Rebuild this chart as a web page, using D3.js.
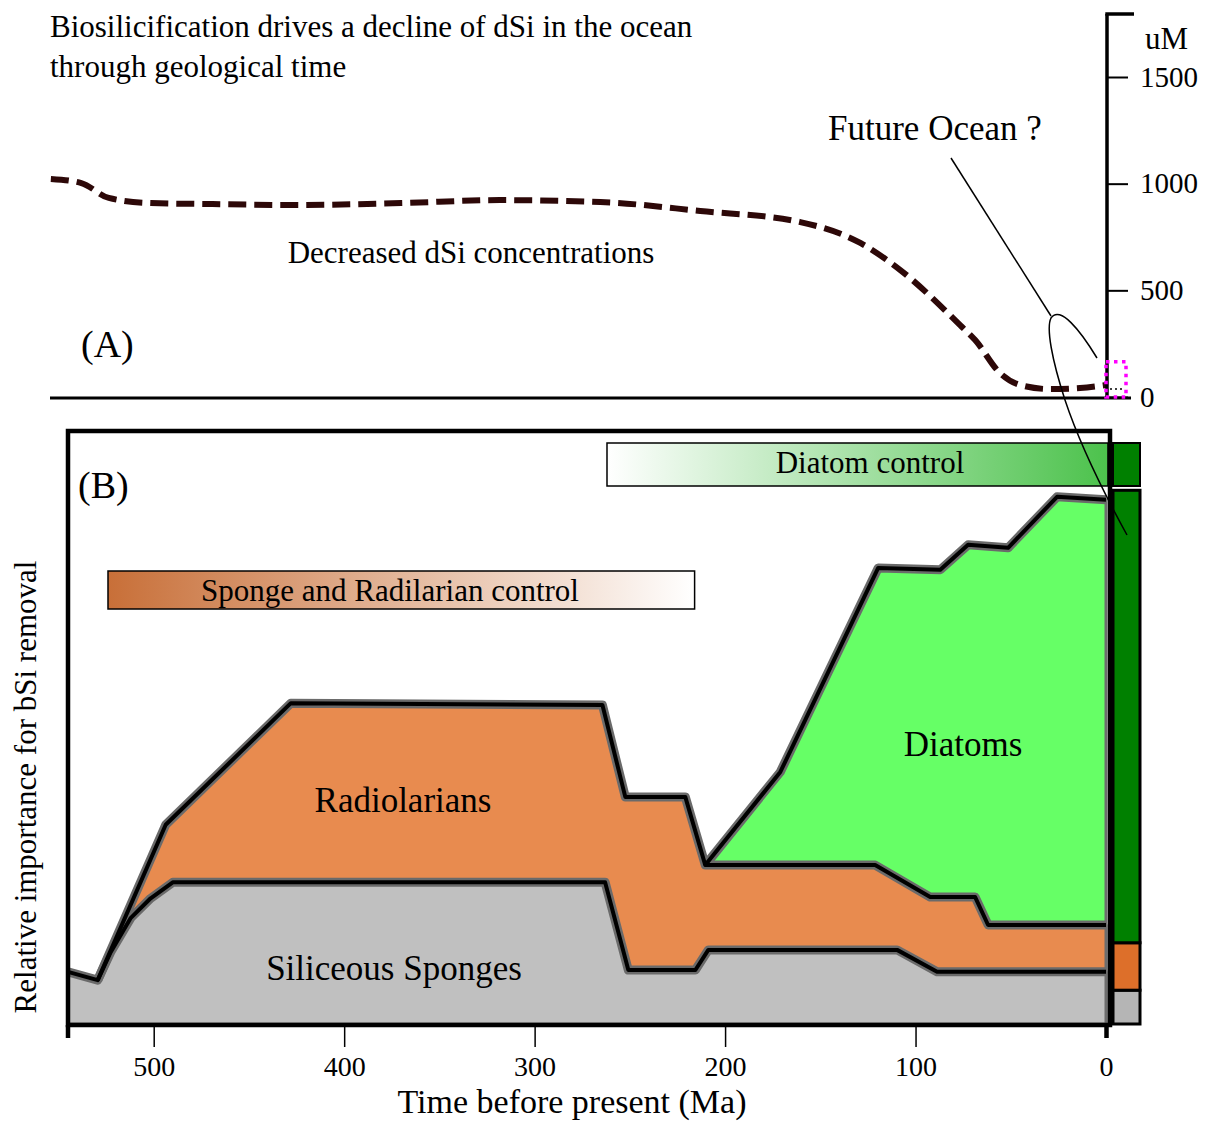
<!DOCTYPE html>
<html>
<head>
<meta charset="utf-8">
<script src="https://cdn.jsdelivr.net/npm/d3@7"></script>
<style>
  body { margin: 0; background: #fff; }
  svg { display: block; font-family: "Liberation Serif", "Times New Roman", serif; }
</style>
</head>
<body>
<svg id="chart" width="1210" height="1122"></svg>
<script>
// (A) dissolved Si in the ocean, [Ma, uM]
var dsiCurve = [[554,1022],[538,1003],[523.6,933],[501.6,909],[475,905],[423,900],[370,909],[318,923],
  [265.5,914],[213,872],[160.5,820],[129,722],[108,595],[76.6,337],[68.7,267],[55.6,112],[45,56],
  [29.4,37],[13.6,42],[0,56]];

// (B) upper edge of each layer, [Ma, relative importance 0-100]
var spongeTop = [[545,8.8],[529.4,7.4],[522.6,12.1],[512,17.9],[501.6,21.2],[490,23.9],[263,23.9],
  [250.8,9.1],[215.6,9.1],[208.8,12.5],[109.7,12.5],[88.7,8.8],[0,8.8]];
var radiolarianTop = [[529.4,7.4],[493.7,33.6],[428,54.1],[264.4,53.8],[252.4,38.3],[220.9,38.3],
  [210.4,26.8],[121.2,26.8],[92.3,21.4],[68.7,21.4],[61.9,16.7],[0,16.7]];
var diatomTop = [[210.4,26.8],[171,42.5],[119.6,76.9],[87,76.6],[72.4,80.8],[51.4,80.3],[25.7,88.9],[0,88.4]];

// present day share of bSi removal (bottom to top)
var presentNames = ["Siliceous Sponges", "Radiolarians", "Diatoms"];
var presentShare = [5.7, 8.0, 76.3];

// periods of control, [from Ma, to Ma]
var spongeControl = [524, 216];
var diatomControl = [262, 0];

var timeTicks = [500, 400, 300, 200, 100, 0];
var dsiTicks = [0, 500, 1000, 1500];

var serif = '"Liberation Serif", "Times New Roman", serif';
var svg = d3.select('#chart');
var defs = svg.append('defs');

var x = d3.scaleLinear().domain([545, 0]).range([68, 1106]);
var yA = d3.scaleLinear().domain([0, 1800]).range([397, 13]);
var yB = d3.scaleLinear().domain([0, 100]).range([1024, 431]);

// gradients for the control bars
var g1 = defs.append('linearGradient').attr('id', 'diatomGrad');
g1.append('stop').attr('offset', '0%').attr('stop-color', '#ffffff');
g1.append('stop').attr('offset', '100%').attr('stop-color', '#4cc24c');
var g2 = defs.append('linearGradient').attr('id', 'spongeGrad');
g2.append('stop').attr('offset', '0%').attr('stop-color', '#c86f38');
g2.append('stop').attr('offset', '100%').attr('stop-color', '#ffffff');

// ---------- panel A ----------
svg.append('text').attr('x', 50).attr('y', 37).attr('font-size', 31)
  .text('Biosilicification drives a decline of dSi in the ocean');
svg.append('text').attr('x', 50).attr('y', 77).attr('font-size', 31)
  .text('through geological time');

svg.append('line').attr('x1', 50).attr('x2', 1131).attr('y1', 398).attr('y2', 398)
  .attr('stroke', '#000').attr('stroke-width', 3);

svg.append('path').datum(dsiCurve)
  .attr('d', d3.line().x(d => x(d[0])).y(d => yA(d[1])).curve(d3.curveMonotoneX))
  .attr('fill', 'none').attr('stroke', '#2d0808').attr('stroke-width', 6)
  .attr('stroke-dasharray', '18,8');

var axA = svg.append('g').attr('transform', 'translate(' + (x(0) + 1) + ',0)')
  .call(d3.axisRight(yA).tickValues(dsiTicks).tickSize(21).tickPadding(12).tickFormat(d3.format('d')))
  .attr('font-family', serif).attr('font-size', 29);
axA.select('.domain').remove();
axA.selectAll('.tick line').attr('stroke-width', 2);
axA.append('line').attr('x1', 0).attr('x2', 0).attr('y1', 14).attr('y2', 399)
  .attr('stroke', '#000').attr('stroke-width', 3.5);
axA.append('line').attr('x1', -1.7).attr('x2', 27).attr('y1', 14).attr('y2', 14)
  .attr('stroke', '#000').attr('stroke-width', 3.5);
axA.append('text').attr('x', 38).attr('y', 38).attr('dy', '0.35em').attr('font-size', 31)
  .attr('fill', '#000').attr('text-anchor', 'start').text('uM');

svg.append('text').attr('x', 471).attr('y', 263).attr('font-size', 31).attr('text-anchor', 'middle')
  .text('Decreased dSi concentrations');
svg.append('text').attr('x', 81).attr('y', 357).attr('font-size', 38).text('(A)');

// future ocean box
svg.append('rect').attr('x', x(0)).attr('y', yA(165)).attr('width', 20).attr('height', yA(0) - yA(165))
  .attr('fill', 'none').attr('stroke', '#ff00ff').attr('stroke-width', 3.5).attr('stroke-dasharray', '3.5,4.5');
svg.append('line').attr('x1', x(0) + 4).attr('x2', x(0) + 17).attr('y1', 389).attr('y2', 389)
  .attr('stroke', '#000').attr('stroke-width', 1.5).attr('stroke-dasharray', '2,3');

// ---------- panel B ----------
var area = d3.area().x(d => x(d[0])).y0(yB(0)).y1(d => yB(d[1]));
var line = d3.line().x(d => x(d[0])).y(d => yB(d[1]));

var layers = [
  { data: diatomTop, fill: '#66ff66' },
  { data: radiolarianTop, fill: '#e88b4f' },
  { data: spongeTop, fill: '#c0c0c0' }
];

svg.selectAll('.layer').data(layers).enter().append('path')
  .attr('class', 'layer')
  .attr('d', d => area(d.data))
  .attr('fill', d => d.fill)
  .attr('stroke', '#6d6d6d').attr('stroke-width', 3).attr('stroke-linejoin', 'round');

svg.selectAll('.halo').data(layers).enter().append('path')
  .attr('class', 'halo')
  .attr('d', d => line(d.data))
  .attr('fill', 'none').attr('stroke', '#6a6a6a').attr('stroke-width', 9).attr('stroke-linejoin', 'round');
svg.selectAll('.edge').data(layers).enter().append('path')
  .attr('class', 'edge')
  .attr('d', d => line(d.data))
  .attr('fill', 'none').attr('stroke', '#000').attr('stroke-width', 4).attr('stroke-linejoin', 'round');

// control bars
svg.append('rect').attr('x', x(diatomControl[0])).attr('y', 443)
  .attr('width', x(diatomControl[1]) + 2 - x(diatomControl[0])).attr('height', 43)
  .attr('fill', 'url(#diatomGrad)').attr('stroke', '#000').attr('stroke-width', 1.5);
svg.append('text').attr('x', 870).attr('y', 462).attr('dy', '0.35em').attr('font-size', 31)
  .attr('text-anchor', 'middle').text('Diatom control');

svg.append('rect').attr('x', x(spongeControl[0])).attr('y', 571)
  .attr('width', x(spongeControl[1]) - x(spongeControl[0])).attr('height', 38)
  .attr('fill', 'url(#spongeGrad)').attr('stroke', '#000').attr('stroke-width', 1.5);
svg.append('text').attr('x', 390).attr('y', 590).attr('dy', '0.35em').attr('font-size', 31)
  .attr('text-anchor', 'middle').text('Sponge and Radilarian control');

// present-day bar on the right
var barColors = ['#b5b5b5', '#dd6f2a', '#008000'];
var cum = 0;
var stacks = presentShare.map(function (v, i) {
  var s = { name: presentNames[i], lo: cum, hi: cum + v, color: barColors[i] };
  cum += v;
  return s;
});
svg.selectAll('.now').data(stacks).enter().append('rect')
  .attr('class', 'now')
  .attr('x', 1113).attr('width', 27)
  .attr('y', d => yB(d.hi)).attr('height', d => yB(d.lo) - yB(d.hi))
  .attr('fill', d => d.color).attr('stroke', '#000').attr('stroke-width', 3);
svg.append('rect').attr('x', 1113).attr('y', 443).attr('width', 27).attr('height', 43)
  .attr('fill', '#008000').attr('stroke', '#000').attr('stroke-width', 2);

// frame
svg.append('rect').attr('x', 68).attr('y', 431).attr('width', 1042).attr('height', 594)
  .attr('fill', 'none').attr('stroke', '#000').attr('stroke-width', 4.5);

// labels inside
svg.append('text').attr('x', 78).attr('y', 498).attr('font-size', 38).text('(B)');
svg.append('text').attr('x', 403).attr('y', 800).attr('dy', '0.35em').attr('font-size', 35)
  .attr('text-anchor', 'middle').text('Radiolarians');
svg.append('text').attr('x', 963).attr('y', 744).attr('dy', '0.35em').attr('font-size', 35)
  .attr('text-anchor', 'middle').text('Diatoms');
svg.append('text').attr('x', 394).attr('y', 968).attr('dy', '0.35em').attr('font-size', 35)
  .attr('text-anchor', 'middle').text('Siliceous Sponges');

// x axis
var axB = svg.append('g').attr('transform', 'translate(0,1027)')
  .call(d3.axisBottom(x).tickValues(timeTicks).tickSize(20).tickPadding(9).tickFormat(d3.format('d')))
  .attr('font-family', serif).attr('font-size', 28);
axB.select('.domain').remove();
axB.selectAll('.tick line').attr('stroke-width', 1.5);
axB.selectAll('.tick').filter(d => d === 0).select('line').attr('stroke-width', 4.5).attr('y2', 11);
axB.append('line').attr('x1', 68).attr('x2', 68).attr('y1', -2).attr('y2', 11)
  .attr('stroke', '#000').attr('stroke-width', 4.5);

svg.append('text').attr('x', 572).attr('y', 1113).attr('font-size', 34).attr('text-anchor', 'middle')
  .text('Time before present (Ma)');
svg.append('text').attr('transform', 'translate(36,787) rotate(-90)').attr('font-size', 31)
  .attr('text-anchor', 'middle').text('Relative importance for bSi removal');

// Future Ocean annotation
svg.append('text').attr('x', 828).attr('y', 140).attr('font-size', 35).text('Future Ocean ?');
svg.append('line').attr('x1', 951).attr('y1', 158).attr('x2', 1051).attr('y2', 316)
  .attr('stroke', '#000').attr('stroke-width', 1.5);
svg.append('path')
  .attr('d', 'M1097,358 C1080,330 1060,305 1051,318 C1046,328 1052,360 1065,400 C1080,445 1105,495 1127,535')
  .attr('fill', 'none').attr('stroke', '#000').attr('stroke-width', 1.5);
</script>
</body>
</html>
